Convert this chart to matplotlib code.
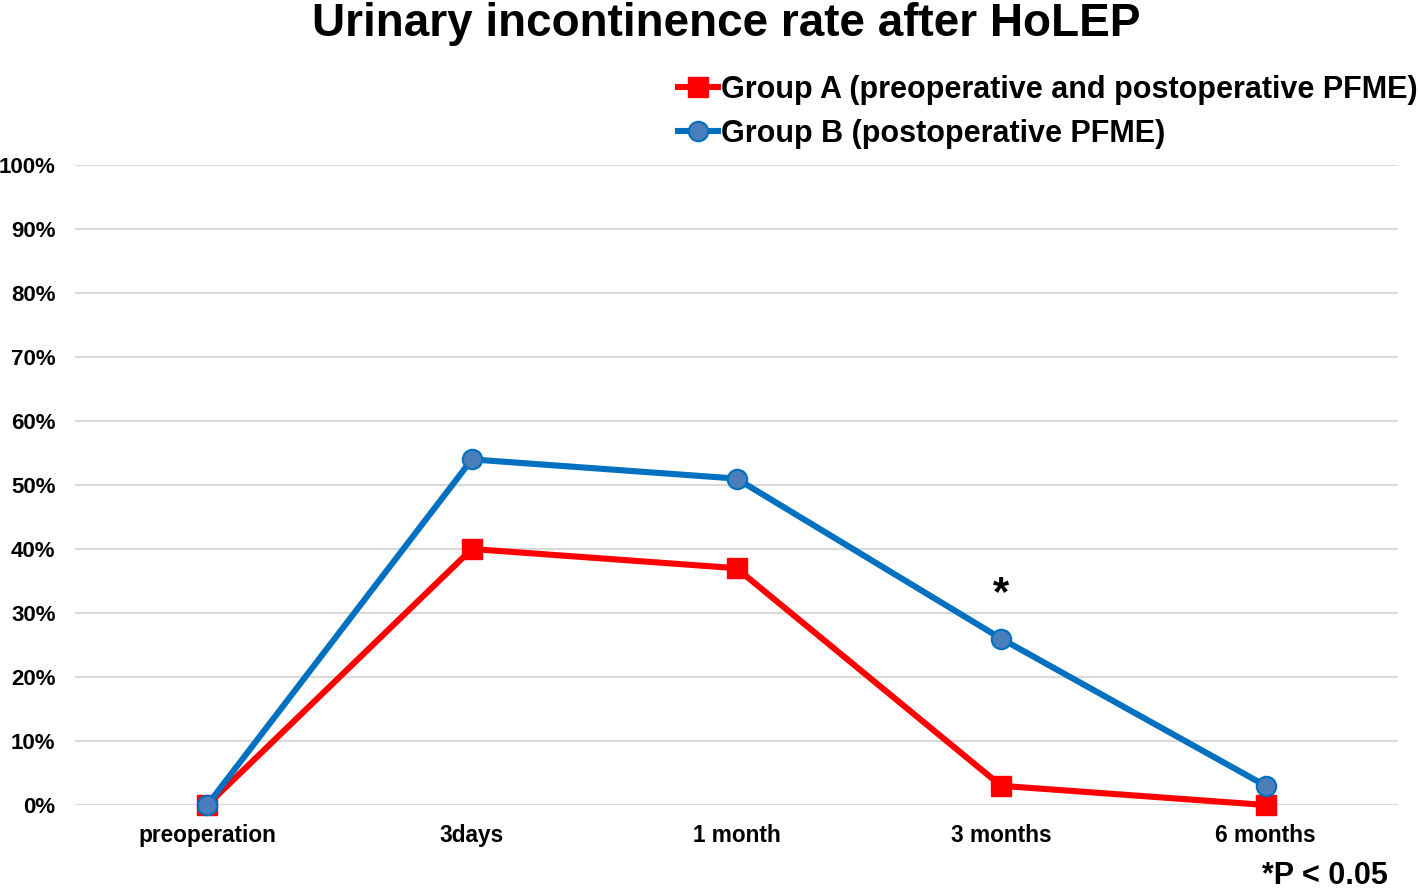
import matplotlib
matplotlib.use("Agg")
import matplotlib.pyplot as plt
from matplotlib.ticker import FuncFormatter

plt.rcParams['font.family'] = ['Liberation Sans', 'DejaVu Sans']
plt.rcParams['font.weight'] = 'bold'

categories = ["preoperation", "3days", "1 month", "3 months", "6 months"]
group_a = [0, 40, 37, 3, 0]
group_b = [0, 54, 51, 26, 3]
label_a = "Group A (preoperative and postoperative PFME)"
label_b = "Group B (postoperative PFME)"
title = "Urinary incontinence rate after HoLEP"
yticks = list(range(0, 101, 10))

W, H = 1418, 889
fig = plt.figure(figsize=(W / 100, H / 100), dpi=100)
ax = fig.add_axes([75 / W, (H - 805) / H, 1323 / W, 640 / H])

x = list(range(len(categories)))
ax.plot(x, group_a, color='#FF0000', lw=4.4, marker='s', markersize=14,
        markerfacecolor='#FF0000', markeredgecolor='#FF0000', label=label_a,
        clip_on=False, zorder=3)
ax.plot(x, group_b, color='#0070C0', lw=4.4, marker='o', markersize=14,
        markerfacecolor='#4A7EBB', markeredgecolor='#0070C0', markeredgewidth=1.5,
        label=label_b, clip_on=False, zorder=4)

ax.set_xlim(-0.5, len(categories) - 0.5)
ax.set_ylim(0, 100)
ax.set_yticks(yticks)
ax.yaxis.set_major_formatter(FuncFormatter(lambda v, p: f"{int(v)}%"))
ax.set_xticks(x)
ax.set_xticklabels(categories)
for s in ax.spines.values():
    s.set_visible(False)
ax.grid(axis='y', color='#D9D9D9', lw=1.5)
ax.set_axisbelow(True)
ax.tick_params(axis='y', length=0, pad=14, labelsize=16)
ax.tick_params(axis='x', length=0, pad=14, labelsize=16.3)
for t in ax.get_xticklabels() + ax.get_yticklabels():
    t.set_fontweight('bold')

# significance marker
ax.text(3, 33.0, "*", ha='center', va='center', fontsize=30, fontweight='bold')

fig.text(0.512, 1 - 36 / H, title, ha='center', va='baseline', fontsize=33, fontweight='bold')
fig.text(1388 / W, 1 - 876 / H, "*P < 0.05", ha='right', va='center', fontsize=22, fontweight='bold')

leg = fig.legend(loc='upper left', bbox_to_anchor=(678 / W, 1 - 75 / H), frameon=False,
                 handlelength=1.3, handletextpad=0.12, borderpad=0,
                 borderaxespad=0, labelspacing=0.45, prop={'weight': 'bold', 'size': 22})

fig.savefig("out.png", dpi=100, facecolor='white')
